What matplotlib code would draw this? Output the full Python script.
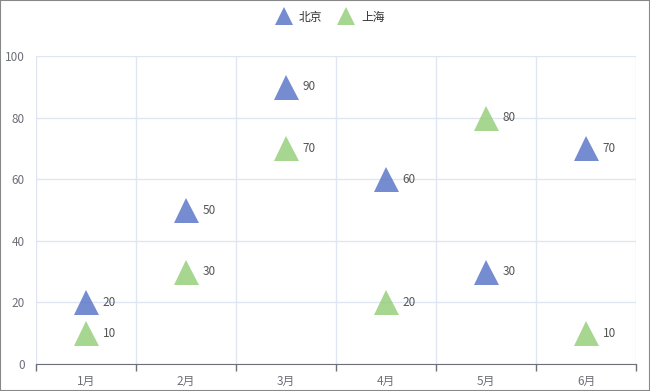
import matplotlib
matplotlib.use("Agg")
import matplotlib.pyplot as plt
from matplotlib.patches import Rectangle

plt.rcParams['font.family'] = ['Noto Sans CJK SC', 'DejaVu Sans']

months = ['1月', '2月', '3月', '4月', '5月', '6月']
beijing = [20, 50, 90, 60, 30, 70]
shanghai = [10, 30, 70, 20, 80, 10]

blue = '#5470c6'
green = '#91cc75'

fig = plt.figure(figsize=(6.5, 3.91), dpi=100)
ax = fig.add_axes([36 / 650, 1 - 364 / 391, 600 / 650, 308 / 391])

x = list(range(len(months)))
ax.plot(x, beijing, linestyle='none', marker='^', ms=18, color=blue, alpha=0.8,
        markeredgewidth=0, label='北京', zorder=3)
ax.plot(x, shanghai, linestyle='none', marker='^', ms=18, color=green, alpha=0.8,
        markeredgewidth=0, label='上海', zorder=3)

for xi, v in zip(x, beijing):
    ax.annotate(str(v), (xi, v), xytext=(12, 0), textcoords='offset points',
                va='center', ha='left', fontsize=8.5, color='#555555')
for xi, v in zip(x, shanghai):
    ax.annotate(str(v), (xi, v), xytext=(12, 0), textcoords='offset points',
                va='center', ha='left', fontsize=8.5, color='#555555')

ax.set_xlim(-0.5, len(months) - 0.5)
ax.set_ylim(0, 100)
ax.set_yticks(range(0, 101, 20))
ax.set_xticks(x)
ax.set_xticklabels(months)
ax.set_xticks([i - 0.5 for i in range(len(months) + 1)], minor=True)
ax.tick_params(axis='x', which='major', length=0, pad=8, labelsize=8.5, labelcolor='#6e7079')
ax.tick_params(axis='x', which='minor', length=5, color='#6e7079', width=1)
ax.tick_params(axis='y', length=0, pad=8, labelsize=8.5, labelcolor='#6e7079')

ax.grid(axis='y', which='major', color='#e0e6f1', linewidth=1)
ax.grid(axis='x', which='minor', color='#e0e6f1', linewidth=1)
ax.set_axisbelow(True)
for s in ['top', 'right', 'left']:
    ax.spines[s].set_visible(False)
ax.spines['bottom'].set_color('#6e7079')

fig.legend(loc='upper center', bbox_to_anchor=(0.505, 1.0), ncol=2, frameon=False,
           fontsize=8.5, handletextpad=0.3, columnspacing=1.0, markerscale=0.75,
           labelcolor='#333333')

fig.patches.append(Rectangle((0, 0), 1, 1, transform=fig.transFigure, fill=False,
                             edgecolor='#888888', linewidth=1.5))

fig.savefig('out.png', dpi=100)
